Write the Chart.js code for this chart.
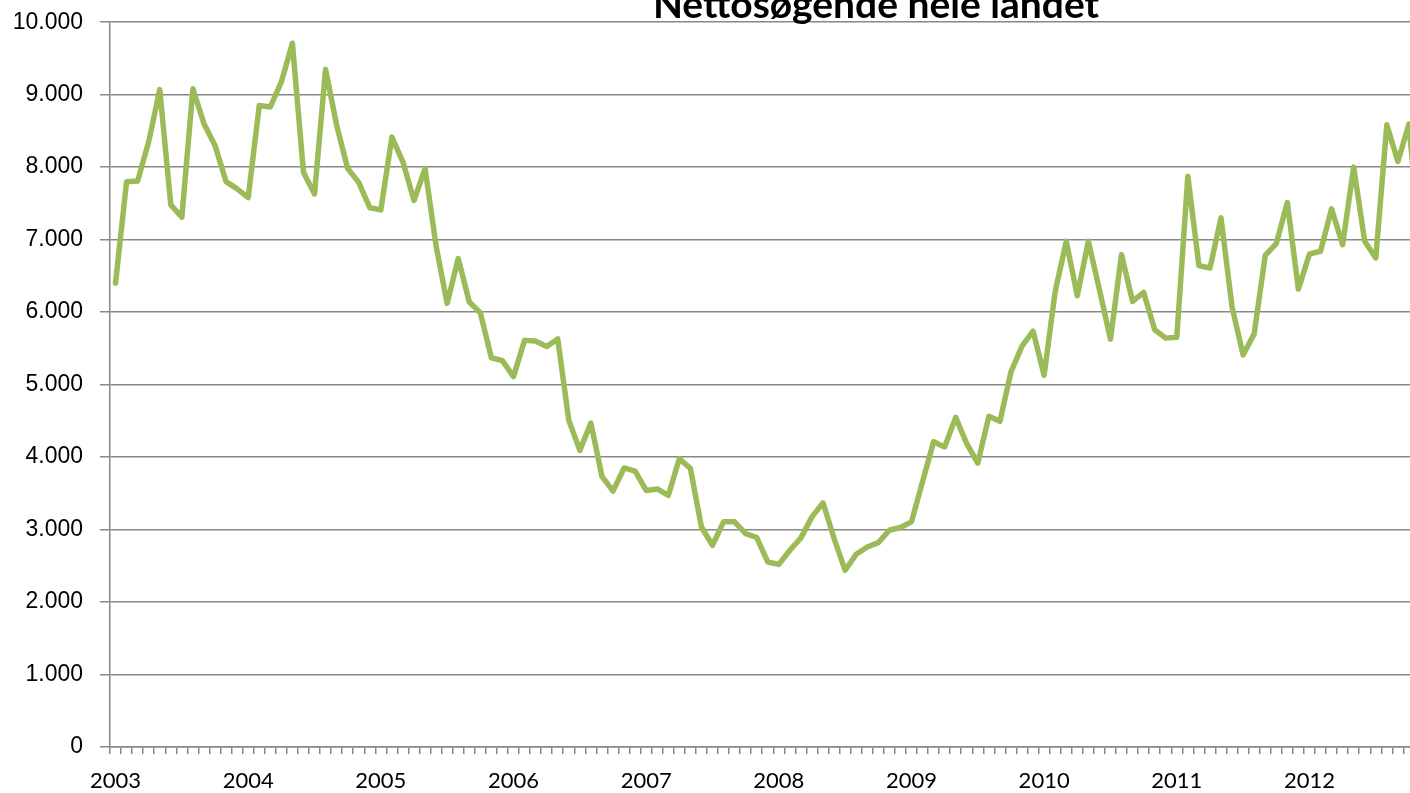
<!DOCTYPE html>
<html>
<head>
<meta charset="utf-8">
<title>Nettosøgende hele landet</title>
<script src="https://cdn.jsdelivr.net/npm/chart.js@4.4.1/dist/chart.umd.min.js"></script>
<style>
  html, body { margin: 0; padding: 0; background: #fff; overflow: hidden; }
  #chart { display: block; }
</style>
</head>
<body>
<!-- canvas is a little wider than the window: the original chart is cut off on the right -->
<canvas id="chart" width="1436" height="793"></canvas>
<script>
// ---- data -------------------------------------------------------------
const chartTitle = 'Nettosøgende hele landet';

// years on the axis, months per year (last year runs to November)
const years = ['2003', '2004', '2005', '2006', '2007', '2008', '2009', '2010', '2011', '2012'];
const monthsInYear = [12, 12, 12, 12, 12, 12, 12, 12, 12, 11];

// monthly values, Jan 2003 .. Nov 2012
const netSeekers = [
  6400, 7800, 7810, 8350, 9070, 7480, 7310, 9080, 8600, 8300, 7800, 7700,   // 2003
  7580, 8850, 8830, 9175, 9710, 7930, 7630, 9350, 8580, 7980, 7790, 7440,   // 2004
  7410, 8414, 8070, 7540, 7980, 6910, 6120, 6740, 6140, 5990, 5370, 5330,   // 2005
  5110, 5610, 5600, 5525, 5630, 4507, 4092, 4470, 3733, 3530, 3850, 3806,   // 2006
  3540, 3560, 3470, 3977, 3845, 3035, 2783, 3106, 3106, 2945, 2890, 2553,   // 2007
  2520, 2714, 2885, 3175, 3369, 2876, 2438, 2659, 2760, 2820, 2990, 3028,   // 2008
  3106, 3659, 4212, 4140, 4548, 4184, 3917, 4562, 4493, 5175, 5530, 5737,   // 2009
  5129, 6286, 6977, 6226, 6977, 6309, 5627, 6793, 6147, 6272, 5756, 5641,   // 2010
  5652, 7875, 6641, 6608, 7300, 6069, 5410, 5700, 6783, 6945, 7512, 6318,   // 2011
  6802, 6839, 7424, 6931, 8000, 6977, 6747, 8585, 8078, 8595, 6900          // 2012
];

const yMin = 0;
const yMax = 10000;
const yStep = 1000;

// category labels: "2003-01" ... ; the axis only prints the year at January
const categories = [];
years.forEach((y, yi) => {
  for (let m = 1; m <= monthsInYear[yi]; m++) {
    categories.push(y + '-' + String(m).padStart(2, '0'));
  }
});

// ---- styling ----------------------------------------------------------
const lineColor = '#9BBB59';
const gridColor = '#888888';
const textColor = '#000000';

function thousands(v) {
  return String(v).replace(/\B(?=(\d{3})+(?!\d))/g, '.');
}

// title sits partly above the top edge, as in the cropped original
const titlePlugin = {
  id: 'cutTitle',
  afterDraw(chart) {
    const ctx = chart.ctx;
    ctx.save();
    ctx.font = "bold 39px Lato, 'Open Sans', sans-serif";
    ctx.fillStyle = textColor;
    ctx.textAlign = 'center';
    ctx.textBaseline = 'alphabetic';
    ctx.fillText(chartTitle, 876, 18);
    ctx.restore();
  }
};

new Chart(document.getElementById('chart'), {
  type: 'line',
  data: {
    labels: categories,
    datasets: [{
      label: chartTitle,
      data: netSeekers,
      borderColor: lineColor,
      backgroundColor: lineColor,
      borderWidth: 5.5,
      borderJoinStyle: 'round',
      borderCapStyle: 'round',
      tension: 0,
      pointRadius: 0,
      fill: false
    }]
  },
  options: {
    responsive: false,
    animation: false,
    devicePixelRatio: 1,
    layout: { padding: { left: 0, top: 0, right: 0, bottom: 0 } },
    plugins: {
      legend: { display: false },
      title: { display: false },
      tooltip: { enabled: false }
    },
    scales: {
      x: {
        type: 'category',
        offset: true,
        afterFit: s => { s.height = 46; },
        grid: {
          offset: true,
          drawOnChartArea: false,
          drawTicks: true,
          tickLength: 7,
          color: gridColor,
          lineWidth: 1.5
        },
        border: { color: gridColor, width: 1.5 },
        ticks: {
          autoSkip: false,
          maxRotation: 0,
          minRotation: 0,
          padding: 16,
          color: textColor,
          font: { family: "Lato, 'Open Sans', sans-serif", size: 22, lineHeight: 1 },
          callback: function (value, index) {
            const lab = categories[index];
            return lab.endsWith('-01') ? lab.slice(0, 4) : '';
          }
        }
      },
      y: {
        min: yMin,
        max: yMax,
        afterFit: s => { s.width = 110; },
        grid: {
          color: gridColor,
          lineWidth: 1.5,
          tickLength: 10
        },
        border: { color: gridColor, width: 1.5 },
        ticks: {
          stepSize: yStep,
          padding: 17,
          color: textColor,
          // small line height keeps the top label from pushing the plot down
          font: { family: "'Liberation Sans', Arial, sans-serif", size: 23, lineHeight: 0.45 },
          callback: v => thousands(v)
        }
      }
    }
  },
  plugins: [titlePlugin]
});
</script>
</body>
</html>
